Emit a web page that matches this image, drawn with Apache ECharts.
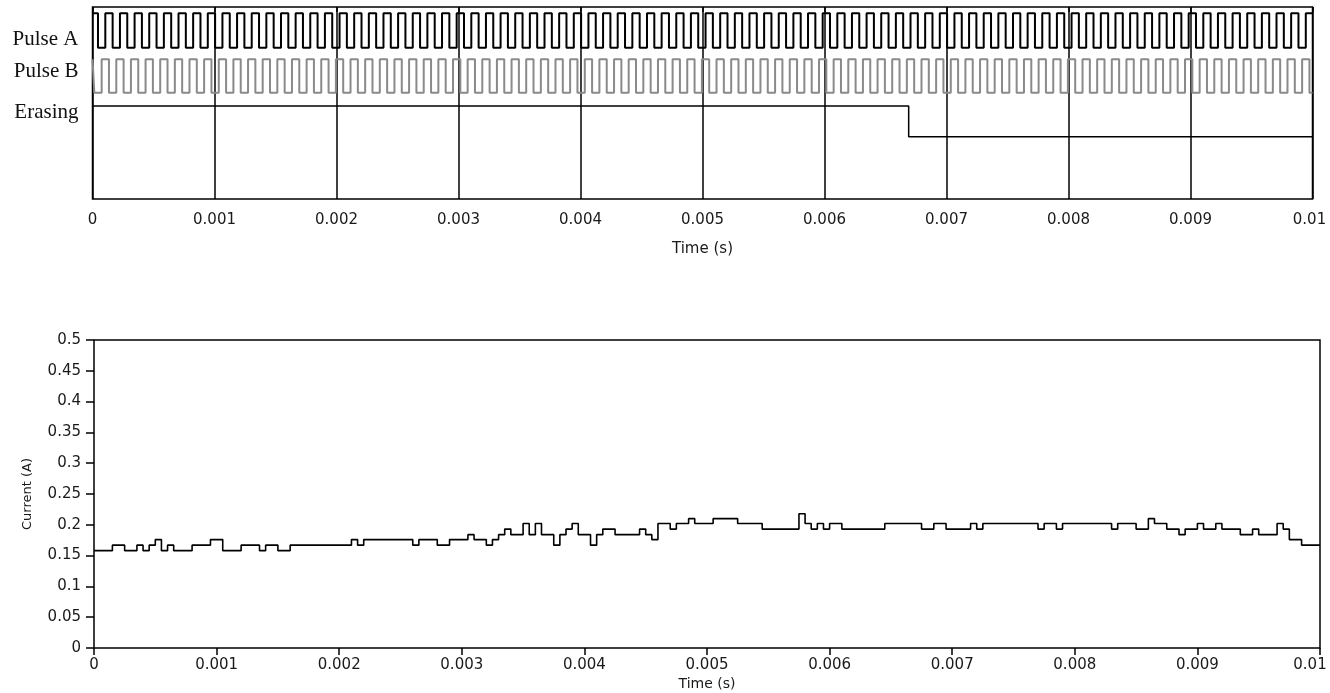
<!DOCTYPE html>
<html>
<head>
<meta charset="utf-8">
<script src="https://cdn.jsdelivr.net/npm/echarts@6/dist/echarts.min.js"></script>
<style>
html,body{margin:0;padding:0;background:#fff;}
#chart{width:1330px;height:693px;}
</style>
</head>
<body>
<div id="chart"></div>
<script>
// ---------- DATA ----------
const signalNames = ['Pulse A', 'Pulse B', 'Erasing'];

// Pulse A: starts high, toggles at these times (microseconds)
const pulseAStart = 1;
const pulseAToggleUs = [45,105,165,225,285,345,405,465,525,585,645,705,765,825,885,945,1005,1065,1125,1185,1245,1305,1365,1425,1485,1545,1605,1665,1725,1785,1845,1905,1965,2025,2085,2145,2205,2265,2325,2385,2445,2505,2565,2625,2685,2745,2805,2865,2925,2985,3045,3105,3165,3225,3285,3345,3405,3465,3525,3585,3645,3705,3765,3825,3885,3945,4005,4065,4125,4185,4245,4305,4365,4425,4485,4545,4605,4665,4725,4785,4845,4905,4965,5025,5085,5145,5205,5265,5325,5385,5445,5505,5565,5625,5685,5745,5805,5865,5925,5985,6045,6105,6165,6225,6285,6345,6405,6465,6525,6585,6645,6705,6765,6825,6885,6945,7005,7065,7125,7185,7245,7305,7365,7425,7485,7545,7605,7665,7725,7785,7845,7905,7965,8025,8085,8145,8205,8265,8325,8385,8445,8505,8565,8625,8685,8745,8805,8865,8925,8985,9045,9105,9165,9225,9285,9345,9405,9465,9525,9585,9645,9705,9765,9825,9885,9945];

// Pulse B: starts high, toggles at these times (microseconds)
const pulseBStart = 1;
const pulseBToggleUs = [15,75,135,195,255,315,375,435,495,555,615,675,735,795,855,915,975,1035,1095,1155,1215,1275,1335,1395,1455,1515,1575,1635,1695,1755,1815,1875,1935,1995,2055,2115,2175,2235,2295,2355,2415,2475,2535,2595,2655,2715,2775,2835,2895,2955,3015,3075,3135,3195,3255,3315,3375,3435,3495,3555,3615,3675,3735,3795,3855,3915,3975,4035,4095,4155,4215,4275,4335,4395,4455,4515,4575,4635,4695,4755,4815,4875,4935,4995,5055,5115,5175,5235,5295,5355,5415,5475,5535,5595,5655,5715,5775,5835,5895,5955,6015,6075,6135,6195,6255,6315,6375,6435,6495,6555,6615,6675,6735,6795,6855,6915,6975,7035,7095,7155,7215,7275,7335,7395,7455,7515,7575,7635,7695,7755,7815,7875,7935,7995,8055,8115,8175,8235,8295,8355,8415,8475,8535,8595,8655,8715,8775,8835,8895,8955,9015,9075,9135,9195,9255,9315,9375,9435,9495,9555,9615,9675,9735,9795,9855,9915,9975];

// Erasing: starts high, toggles once (microseconds)
const erasingStart = 1;
const erasingToggleUs = [6690];

// Current (A): one value per 50 us sample, 200 samples over 0..0.01 s
const sampleIntervalS = 0.00005;
const currentA = [
  0.158,0.158,0.158,0.167,0.167,0.158,0.158,0.167,0.158,0.167,
  0.176,0.158,0.167,0.158,0.158,0.158,0.167,0.167,0.167,0.176,
  0.176,0.158,0.158,0.158,0.167,0.167,0.167,0.158,0.167,0.167,
  0.158,0.158,0.167,0.167,0.167,0.167,0.167,0.167,0.167,0.167,
  0.167,0.167,0.176,0.167,0.176,0.176,0.176,0.176,0.176,0.176,
  0.176,0.176,0.167,0.176,0.176,0.176,0.167,0.167,0.176,0.176,
  0.176,0.184,0.176,0.176,0.167,0.176,0.184,0.193,0.184,0.184,
  0.202,0.184,0.202,0.184,0.184,0.167,0.184,0.193,0.202,0.184,
  0.184,0.167,0.184,0.193,0.193,0.184,0.184,0.184,0.184,0.193,
  0.184,0.176,0.202,0.202,0.193,0.202,0.202,0.210,0.202,0.202,
  0.202,0.210,0.210,0.210,0.210,0.202,0.202,0.202,0.202,0.193,
  0.193,0.193,0.193,0.193,0.193,0.218,0.202,0.193,0.202,0.193,
  0.202,0.202,0.193,0.193,0.193,0.193,0.193,0.193,0.193,0.202,
  0.202,0.202,0.202,0.202,0.202,0.193,0.193,0.202,0.202,0.193,
  0.193,0.193,0.193,0.202,0.193,0.202,0.202,0.202,0.202,0.202,
  0.202,0.202,0.202,0.202,0.193,0.202,0.202,0.193,0.202,0.202,
  0.202,0.202,0.202,0.202,0.202,0.202,0.193,0.202,0.202,0.202,
  0.193,0.193,0.210,0.202,0.202,0.193,0.193,0.184,0.193,0.193,
  0.202,0.193,0.193,0.202,0.193,0.193,0.193,0.184,0.184,0.193,
  0.184,0.184,0.184,0.202,0.193,0.176,0.176,0.167,0.167,0.167
];

const tEnd = 0.01;

// ---------- layout helpers (display mapping only) ----------
// top panel y axis runs 0..192 (top to bottom); each trace has a high/low display level
const traceLevels = [
  {hi: 6.3, lo: 40.7},
  {hi: 52.3, lo: 85.7},
  {hi: 99, lo: 129.7}
];
const labelPos = [32, 64, 105];

function digitalSeries(toggles, start, lv) {
  let level = start;
  const pts = [[0, level ? lv.hi : lv.lo]];
  toggles.forEach(function (us) {
    level = 1 - level;
    pts.push([us / 1e6, level ? lv.hi : lv.lo]);
  });
  pts.push([tEnd, level ? lv.hi : lv.lo]);
  return pts;
}

const currentPts = currentA.map(function (v, i) { return [i * sampleIntervalS, v]; });
currentPts.push([tEnd, currentA[currentA.length - 1]]);

const axisFont = 'DejaVu Sans';
const txt = '#1a1a1a';

// last time label is pulled left to stay inside the window
function timeLabel(v) {
  const s = echarts.format.addCommas ? String(+v.toFixed(6)) : String(v);
  return Math.abs(v - tEnd) < 1e-9 ? '{e|' + s + '}' : s;
}

const chart = echarts.init(document.getElementById('chart'), null, {renderer: 'canvas'});
chart.setOption({
  animation: false,
  backgroundColor: '#fff',
  grid: [
    {left: 92.5, top: 7, width: 1220, height: 192, show: true, borderColor: '#000', borderWidth: 1.5,
     backgroundColor: 'transparent', containLabel: false, outerBoundsMode: 'none'},
    {left: 94, top: 340, width: 1226, height: 308, show: true, borderColor: '#000', borderWidth: 1.5,
     backgroundColor: 'transparent', containLabel: false, outerBoundsMode: 'none'}
  ],
  xAxis: [
    {
      gridIndex: 0, type: 'value', min: 0, max: tEnd, interval: 0.001,
      axisLine: {show: false},
      axisTick: {show: true, length: 5, lineStyle: {color: '#000', width: 1.5}},
      splitLine: {show: true, lineStyle: {color: '#000', width: 1.5}},
      axisLabel: {color: txt, fontFamily: axisFont, fontSize: 15, margin: 14, formatter: timeLabel,
        rich: {e: {color: txt, fontFamily: axisFont, fontSize: 15, padding: [0, 6, 0, 0]}}},
      name: 'Time (s)', nameLocation: 'middle', nameGap: 43,
      nameTextStyle: {color: txt, fontFamily: axisFont, fontSize: 15}
    },
    {
      gridIndex: 1, type: 'value', min: 0, max: tEnd, interval: 0.001,
      axisLine: {show: false},
      axisTick: {show: true, length: 7, lineStyle: {color: '#000', width: 1.5}},
      splitLine: {show: false},
      axisLabel: {color: txt, fontFamily: axisFont, fontSize: 15, margin: 10, formatter: timeLabel,
        rich: {e: {color: txt, fontFamily: axisFont, fontSize: 15, padding: [0, 20, 0, 0]}}},
      name: 'Time (s)', nameLocation: 'middle', nameGap: 29,
      nameTextStyle: {color: txt, fontFamily: axisFont, fontSize: 14}
    }
  ],
  yAxis: [
    {
      gridIndex: 0, type: 'value', min: 0, max: 192, inverse: true,
      axisLine: {show: false}, axisTick: {show: false}, splitLine: {show: false},
      axisLabel: {
        show: true, customValues: labelPos, margin: 14,
        color: '#111', fontFamily: 'Liberation Serif', fontSize: 21,
        formatter: function (v) { const k = labelPos.indexOf(v); return k >= 0 ? signalNames[k] : ''; }
      }
    },
    {
      gridIndex: 1, type: 'value', min: 0, max: 0.5, interval: 0.05,
      axisLine: {show: false},
      axisTick: {show: true, length: 8, lineStyle: {color: '#000', width: 1.5}},
      splitLine: {show: false},
      axisLabel: {color: txt, fontFamily: axisFont, fontSize: 15, margin: 13},
      name: 'Current (A)', nameLocation: 'middle', nameGap: 60,
      nameTextStyle: {color: txt, fontFamily: axisFont, fontSize: 13}
    }
  ],
  series: [
    {name: signalNames[0], type: 'line', xAxisIndex: 0, yAxisIndex: 0, step: 'end', symbol: 'none',
     lineStyle: {color: '#000', width: 2}, data: digitalSeries(pulseAToggleUs, pulseAStart, traceLevels[0])},
    {name: signalNames[1], type: 'line', xAxisIndex: 0, yAxisIndex: 0, step: 'end', symbol: 'none',
     lineStyle: {color: '#8a8a8a', width: 2}, data: digitalSeries(pulseBToggleUs, pulseBStart, traceLevels[1])},
    {name: signalNames[2], type: 'line', xAxisIndex: 0, yAxisIndex: 0, step: 'end', symbol: 'none',
     lineStyle: {color: '#000', width: 1.5}, data: digitalSeries(erasingToggleUs, erasingStart, traceLevels[2])},
    {name: 'Current', type: 'line', xAxisIndex: 1, yAxisIndex: 1, step: 'end', symbol: 'none',
     lineStyle: {color: '#000', width: 1.6}, data: currentPts}
  ]
});
</script>
</body>
</html>
